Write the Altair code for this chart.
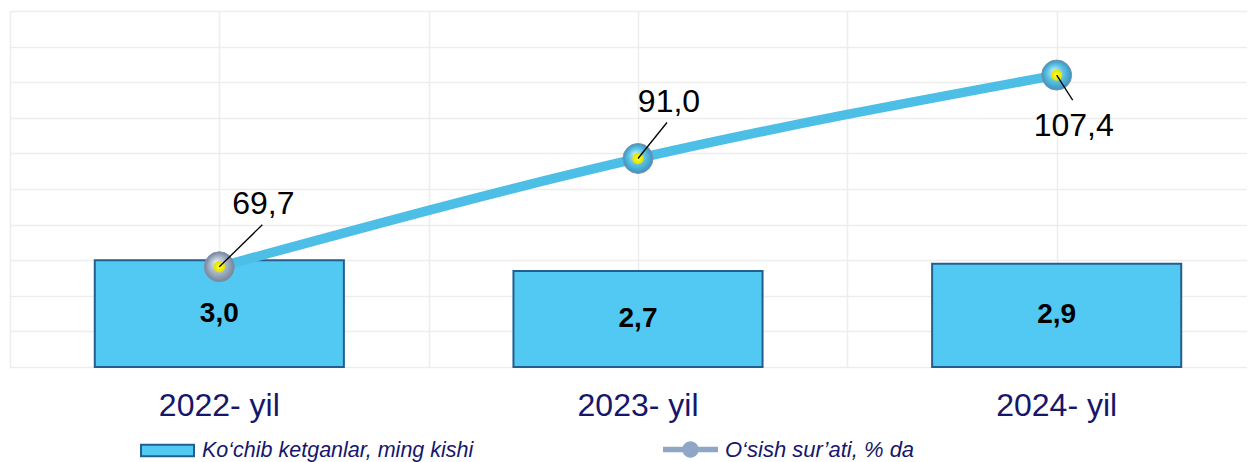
import altair as alt
import pandas as pd

years = ["2022- yil", "2023- yil", "2024- yil"]
emigrants = [3.0, 2.7, 2.9]
growth = [69.7, 91.0, 107.4]

bar_name = "Ko‘chib ketganlar, ming kishi"
line_name = "O‘sish sur’ati, % da"

df = pd.DataFrame({
    "year": years,
    "emigrants": emigrants,
    "growth": growth,
})
df["emig_label"] = [f"{v:.1f}".replace(".", ",") for v in emigrants]
df["growth_label"] = [f"{v:.1f}".replace(".", ",") for v in growth]
df["bar_series"] = bar_name
df["line_series"] = line_name

FONT = "Liberation Sans"
NAVY = "#16166B"
VIEW_W = 1237      # visible plot width
RANGE_W = 1256     # full category range (right part runs past the visible edge)

xband = alt.Scale(domain=years, range=[0, RANGE_W], paddingInner=0.405, paddingOuter=0.2025)
ybar = alt.Scale(domain=[0, 10])
yline = alt.Scale(domain=[50, 120])

X = alt.X("year:N", scale=xband, sort=years,
          axis=alt.Axis(title=None, orient="bottom", labelFont=FONT, labelFontSize=32, labelColor=NAVY,
                        labelAngle=0, ticks=False, domain=False, grid=False, labelPadding=23))

base = alt.Chart(df)

# gridlines
grid = base.mark_point(opacity=0).encode(
    x=alt.X(datum=0, type="quantitative", scale=alt.Scale(domain=[0, 6], range=[0, RANGE_W], nice=False),
            axis=alt.Axis(values=list(range(7)), orient="bottom", labels=False, ticks=False, domain=False,
                          grid=True, gridColor="#EDEDED", gridWidth=1.6, title=None)),
    y=alt.Y(datum=0, type="quantitative", scale=alt.Scale(domain=[0, 10]),
            axis=alt.Axis(values=list(range(11)), orient="left", labels=False, ticks=False, domain=False,
                          grid=True, gridColor="#EDEDED", gridWidth=1.6, title=None)),
)

bars = base.mark_bar(stroke="#235F8E", strokeWidth=2).encode(
    x=X,
    y=alt.Y("emigrants:Q", scale=ybar, axis=None),
    fill=alt.Fill("bar_series:N", scale=alt.Scale(range=["#52C9F3"]),
                  legend=alt.Legend(orient="none", legendX=130, legendY=412, title=None,
                                    symbolType="M-1,-0.22H1V0.22H-1Z", symbolSize=2809,
                                    symbolStrokeColor="#235F8E", symbolStrokeWidth=2,
                                    labelFont=FONT, labelFontStyle="italic", labelFontSize=21.5,
                                    labelColor=NAVY, labelOffset=7, labelLimit=400, padding=0)),
)

bar_text = base.transform_calculate(mid="datum.emigrants / 2").mark_text(
    font=FONT, fontSize=28, fontWeight="bold", color="black", baseline="middle"
).encode(
    x=X,
    y=alt.Y("mid:Q", scale=ybar, axis=None),
    text="emig_label:N",
)

line = base.mark_line(color="#4DBFE6", strokeWidth=9.5, interpolate="monotone").encode(
    x=X,
    y=alt.Y("growth:Q", scale=yline, axis=None),
)

legend_line = base.mark_line(opacity=0).encode(
    x=X,
    y=alt.Y("growth:Q", scale=yline, axis=None),
    stroke=alt.Stroke("line_series:N", scale=alt.Scale(range=["#8FA6C6"]),
                      legend=alt.Legend(orient="none", legendX=653, legendY=411, title=None,
                                        symbolType="M-1,-0.1H1V0.1H-1ZM0.3,0A0.3,0.3,0,1,1,-0.3,0A0.3,0.3,0,1,1,0.3,0Z",
                                        symbolSize=3025, symbolStrokeWidth=0,
                                        symbolFillColor="#8FA6C6", symbolOpacity=1,
                                        labelFont=FONT, labelFontStyle="italic", labelFontSize=22,
                                        labelColor=NAVY, labelOffset=7, labelLimit=400, padding=0)),
)

gray_grad = alt.Gradient(gradient="radial", x1=0.4, y1=0.35, r1=0, x2=0.5, y2=0.5, r2=0.5,
                         stops=[alt.GradientStop(offset=0, color="#EEF2F7"),
                                alt.GradientStop(offset=0.55, color="#A8B6C8"),
                                alt.GradientStop(offset=1, color="#74849B")])
blue_grad = alt.Gradient(gradient="radial", x1=0.4, y1=0.35, r1=0, x2=0.5, y2=0.5, r2=0.5,
                         stops=[alt.GradientStop(offset=0, color="#C6F0FB"),
                                alt.GradientStop(offset=0.55, color="#5CC3E4"),
                                alt.GradientStop(offset=1, color="#3B93BE")])

markers = base.mark_point(filled=True, size=900, stroke="#7D93AE", strokeWidth=1, opacity=1).encode(
    x=X,
    y=alt.Y("growth:Q", scale=yline, axis=None),
    fill=alt.condition(alt.datum.year == years[0], alt.value(gray_grad), alt.value(blue_grad)),
)

yellow_grad = alt.Gradient(gradient="radial", x1=0.5, y1=0.5, r1=0, x2=0.5, y2=0.5, r2=0.5,
                           stops=[alt.GradientStop(offset=0, color="#FFFF30"),
                                  alt.GradientStop(offset=1, color="#E0E000")])
dots = base.mark_point(filled=True, size=130, fill=yellow_grad, opacity=1).encode(
    x=X,
    y=alt.Y("growth:Q", scale=yline, axis=None),
)

leaders = base.mark_point(filled=False, size=40000, stroke="black", strokeWidth=1.3, opacity=1).encode(
    x=X,
    y=alt.Y("growth:Q", scale=yline, axis=None),
    shape=alt.Shape("year:N", sort=years, legend=None,
                    scale=alt.Scale(domain=years,
                                    range=["M0,0L0.43,-0.42", "M0,0L0.29,-0.36", "M0,0L0.16,0.25"])),
)

offsets = {years[0]: (44, -53), years[1]: (31, -46), years[2]: (17, 61)}
labels = []
for yr in years:
    dx, dy = offsets[yr]
    labels.append(
        base.transform_filter(alt.datum.year == yr).mark_text(
            font=FONT, fontSize=32, color="black", align="center", baseline="alphabetic",
            dx=dx, dy=dy
        ).encode(
            x=X,
            y=alt.Y("growth:Q", scale=yline, axis=None),
            text="growth_label:N",
        )
    )

inner = alt.layer(bars, bar_text, line, legend_line, markers, dots, leaders, *labels).resolve_scale(y="independent")

chart = alt.layer(grid, inner).resolve_scale(x="independent", y="independent").properties(
    width=VIEW_W, height=356,
    padding={"left": 2, "top": 3, "right": 0, "bottom": 95},
    autosize=alt.AutoSizeParams(type="none"),
).configure_view(stroke=None).configure(background="white")

chart.save("out.html", embed_options={"renderer": "svg", "actions": False})
